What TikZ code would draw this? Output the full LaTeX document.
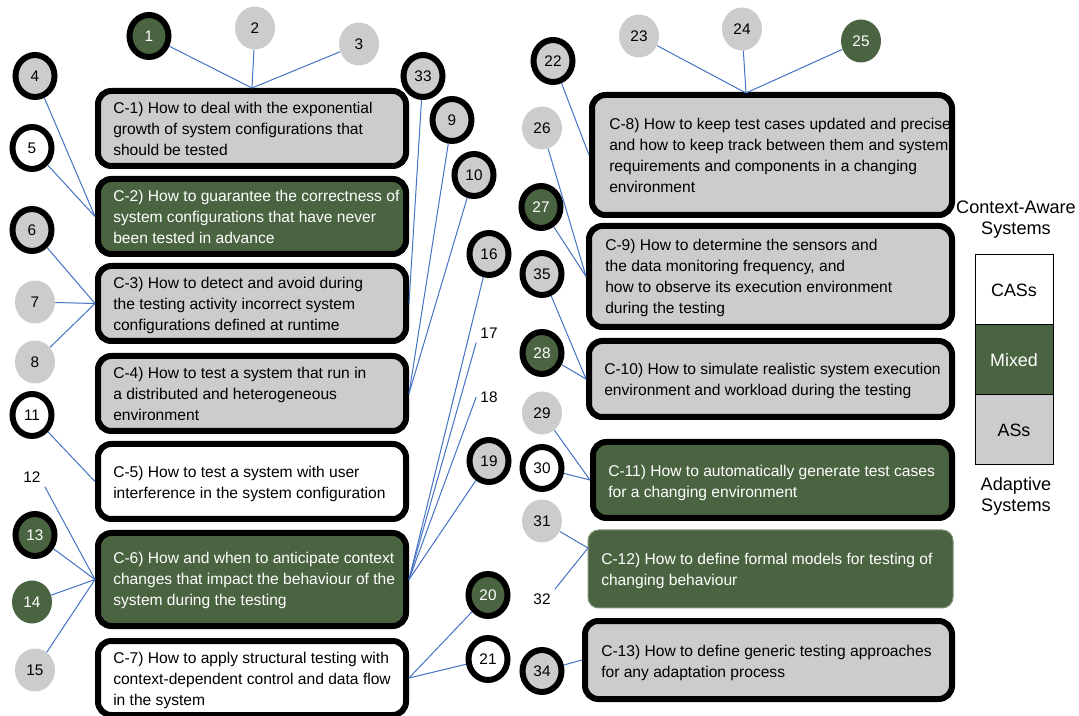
\documentclass[tikz,border=0pt]{standalone}
\usepackage{fontspec}
\setmainfont{Liberation Sans}
\usetikzlibrary{shapes.geometric}
\definecolor{cgreen}{RGB}{74,99,64}
\definecolor{cgray}{RGB}{204,204,204}
\definecolor{cblue}{RGB}{68,114,196}
\tikzset{
  cbox/.style={rectangle, rounded corners=10pt, line width=4.5pt, draw=black, inner sep=0pt},
  ctext/.style={anchor=north west, inner sep=0pt, align=left, font=\fontsize{11.7}{15.75}\selectfont},
  circ/.style={ellipse, inner sep=0pt, minimum width=30pt, minimum height=32.25pt, font=\fontsize{11.5}{13}\selectfont},
  ring/.style={circ, draw=black, line width=4.5pt, minimum width=29.25pt, minimum height=31.5pt},
  fgray/.style={fill=cgray},
  fgreen/.style={fill=cgreen, text=white},
  fwhite/.style={fill=white},
  lbl/.style={inner sep=3pt, font=\fontsize{11.5}{13}\selectfont},
  conn/.style={draw=cblue, line width=0.75pt},
  legcell/.style={rectangle, draw=black, line width=0.75pt, minimum width=58.5pt, minimum height=52.5pt, font=\fontsize{13.4}{15.75}\selectfont},
  legtext/.style={align=center, inner sep=0pt, font=\fontsize{13.6}{15.75}\selectfont}
}
\begin{document}
\begin{tikzpicture}[x=0.75pt,y=-0.75pt]
\useasboundingbox (0,0) rectangle (1079,716);

% ---- challenge boxes (left column)
\node[cbox, fill=cgray, minimum width=231pt, minimum height=56.25pt] (c1) at (252,128.5) {};
\node[cbox, fill=cgreen, minimum width=231pt, minimum height=56.25pt] (c2) at (252,216.5) {};
\node[cbox, fill=cgray, minimum width=231pt, minimum height=56.25pt] (c3) at (252,303.5) {};
\node[cbox, fill=cgray, minimum width=231pt, minimum height=56.25pt] (c4) at (252,393.5) {};
\node[cbox, fill=white, minimum width=231pt, minimum height=56.25pt] (c5) at (252,481.5) {};
\node[cbox, fill=cgreen, minimum width=231pt, minimum height=69.75pt] (c6) at (252,579.5) {};
\node[cbox, fill=white, minimum width=231pt, minimum height=55.5pt] (c7) at (252,678) {};

% ---- challenge boxes (right column)
\node[cbox, fill=cgray, minimum width=270pt, minimum height=90pt] (c8) at (772,155) {};
\node[cbox, fill=cgray, minimum width=272.25pt, minimum height=75.75pt] (c9) at (770.5,276.5) {};
\node[cbox, fill=cgray, minimum width=272.25pt, minimum height=57pt] (c10) at (770.5,379) {};
\node[cbox, fill=cgreen, minimum width=269.25pt, minimum height=57pt] (c11) at (772.5,480) {};
\node[rectangle, rounded corners=8pt, fill=cgreen, draw=cgreen!70!white, line width=0.75pt, inner sep=0pt, minimum width=273.75pt, minimum height=58.5pt] (c12) at (770.5,569) {};
\node[cbox, fill=cgray, minimum width=275.25pt, minimum height=58.5pt] (c13) at (768.5,660) {};

% ---- texts
\node[ctext] (t1) at (113,101.5) {C-1) How to deal with the exponential\\growth of system configurations that\\should be tested};
\node[ctext, text=white] (t2) at (113,190) {C-2) How to guarantee the correctness of\\system configurations that have never\\been tested in advance};
\node[ctext] (t3) at (113,276.5) {C-3) How to detect and avoid during\\the testing activity incorrect system\\configurations defined at runtime};
\node[ctext] (t4) at (113,366.5) {C-4) How to test a system that run in\\a distributed and heterogeneous\\environment};
\node[ctext] (t5) at (113,465.5) {C-5) How to test a system with user\\interference in the system configuration};
\node[ctext, text=white] (t6) at (113,551.5) {C-6) How and when to anticipate context\\changes that impact the behaviour of the\\system during the testing};
\node[ctext] (t7) at (113,651.5) {C-7) How to apply structural testing with\\context-dependent control and data flow\\in the system};
\node[ctext] (t8) at (609,117.5) {C-8) How to keep test cases updated and precise\\and how to keep track between them and system\\requirements and components in a changing\\environment};
\node[ctext] (t9) at (605,238.5) {C-9) How to determine the sensors and\\the data monitoring frequency, and\\how to observe its execution environment\\during the testing};
\node[ctext] (t10) at (604,362.5) {C-10) How to simulate realistic system execution\\environment and workload during the testing};
\node[ctext, text=white] (t11) at (608,464.5) {C-11) How to automatically generate test cases\\for a changing environment};
\node[ctext, text=white] (t12) at (601,552.5) {C-12) How to define formal models for testing of\\changing behaviour};
\node[ctext] (t13) at (601,644.5) {C-13) How to define generic testing approaches\\for any adaptation process};

% ---- numbered circles
\node[ring, fgreen] (n1) at (149,36) {1};
\node[circ, fgray] (n2) at (255,28) {2};
\node[circ, fgray] (n3) at (359,44) {3};
\node[ring, fgray] (n4) at (35,76) {4};
\node[ring, fwhite] (n5) at (32,148) {5};
\node[ring, fgray] (n6) at (32,230) {6};
\node[circ, fgray] (n7) at (35,302) {7};
\node[circ, fgray] (n8) at (35,362) {8};
\node[ring, fwhite] (n11) at (32,415) {11};
\node[lbl] (n12) at (32,477) {12};
\node[ring, fgreen] (n13) at (35,535) {13};
\node[circ, fgreen] (n14) at (32,602) {14};
\node[circ, fgray] (n15) at (35,670) {15};
\node[ring, fgray] (n33) at (423,76) {33};
\node[ring, fgray] (n9) at (452,120) {9};
\node[ring, fgray] (n10) at (474,175) {10};
\node[ring, fgray] (n16) at (489,254) {16};
\node[lbl] (n17) at (489,333) {17};
\node[lbl] (n18) at (489,397) {18};
\node[ring, fgray] (n19) at (489,461) {19};
\node[ring, fgreen] (n20) at (488,595) {20};
\node[ring, fwhite] (n21) at (488,659) {21};
\node[ring, fgray] (n22) at (553,61) {22};
\node[circ, fgray] (n23) at (639,36) {23};
\node[circ, fgray] (n24) at (742,29) {24};
\node[circ, fgreen] (n25) at (861,41) {25};
\node[circ, fgray] (n26) at (542,128) {26};
\node[ring, fgreen] (n27) at (541,207) {27};
\node[ring, fgray] (n35) at (542,274) {35};
\node[ring, fgreen] (n28) at (542,353) {28};
\node[circ, fgray] (n29) at (542,413) {29};
\node[ring, fwhite] (n30) at (542,468) {30};
\node[circ, fgray] (n31) at (542,521) {31};
\node[lbl] (n32) at (542,599) {32};
\node[ring, fgray] (n34) at (542,671) {34};

% ---- legend
\node[legtext] (lca) at (1016,219.5) {Context-Aware\\Systems};
\node[legcell, fill=white] (cas) at (1014,290) {CASs};
\node[legcell, fill=cgreen, text=white] (mix) at (1014,360) {Mixed};
\node[legcell, fill=cgray] (as) at (1014,430) {ASs};
\node[legtext] (lad) at (1016,496.5) {Adaptive\\Systems};

% ---- meeting points
\coordinate (m8) at (746,93);
\coordinate (m12) at (588,548);

% ---- connectors
\draw[conn] (n1) -- (c1.north);
\draw[conn] (n2) -- (c1.north);
\draw[conn] (n3) -- (c1.north);
\draw[conn] (n4) -- (c2.west);
\draw[conn] (n5) -- (c2.west);
\draw[conn] (n6) -- (c3.west);
\draw[conn] (n7) -- (c3.west);
\draw[conn] (n8) -- (c3.west);
\draw[conn] (n33) -- (c3.east);
\draw[conn] (n9) -- (c4.east);
\draw[conn] (n10) -- (c4.east);
\draw[conn] (n11) -- (c5.west);
\draw[conn] (n12.south east) -- (c6.west);
\draw[conn] (n13) -- (c6.west);
\draw[conn] (n14) -- (c6.west);
\draw[conn] (n15) -- (c6.west);
\draw[conn] (n16) -- (c6.east);
\draw[conn] (n17.south west) -- (c6.east);
\draw[conn] (n18.west) -- (c6.east);
\draw[conn] (n19) -- (c6.east);
\draw[conn] (n20) -- (c7.east);
\draw[conn] (n21) -- (c7.east);
\draw[conn] (n22) -- (c8.west);
\draw[conn] (n23) -- (m8);
\draw[conn] (n24) -- (m8);
\draw[conn] (n25) -- (m8);
\draw[conn] (n26) -- (c9.west);
\draw[conn] (n27) -- (c9.west);
\draw[conn] (n35) -- (c10.west);
\draw[conn] (n28) -- (c10.west);
\draw[conn] (n29) -- (c11.west);
\draw[conn] (n30) -- (c11.west);
\draw[conn] (n31) -- (m12);
\draw[conn] (n32.north east) -- (m12);
\draw[conn] (n34) -- (c13.west);
\end{tikzpicture}
\end{document}
